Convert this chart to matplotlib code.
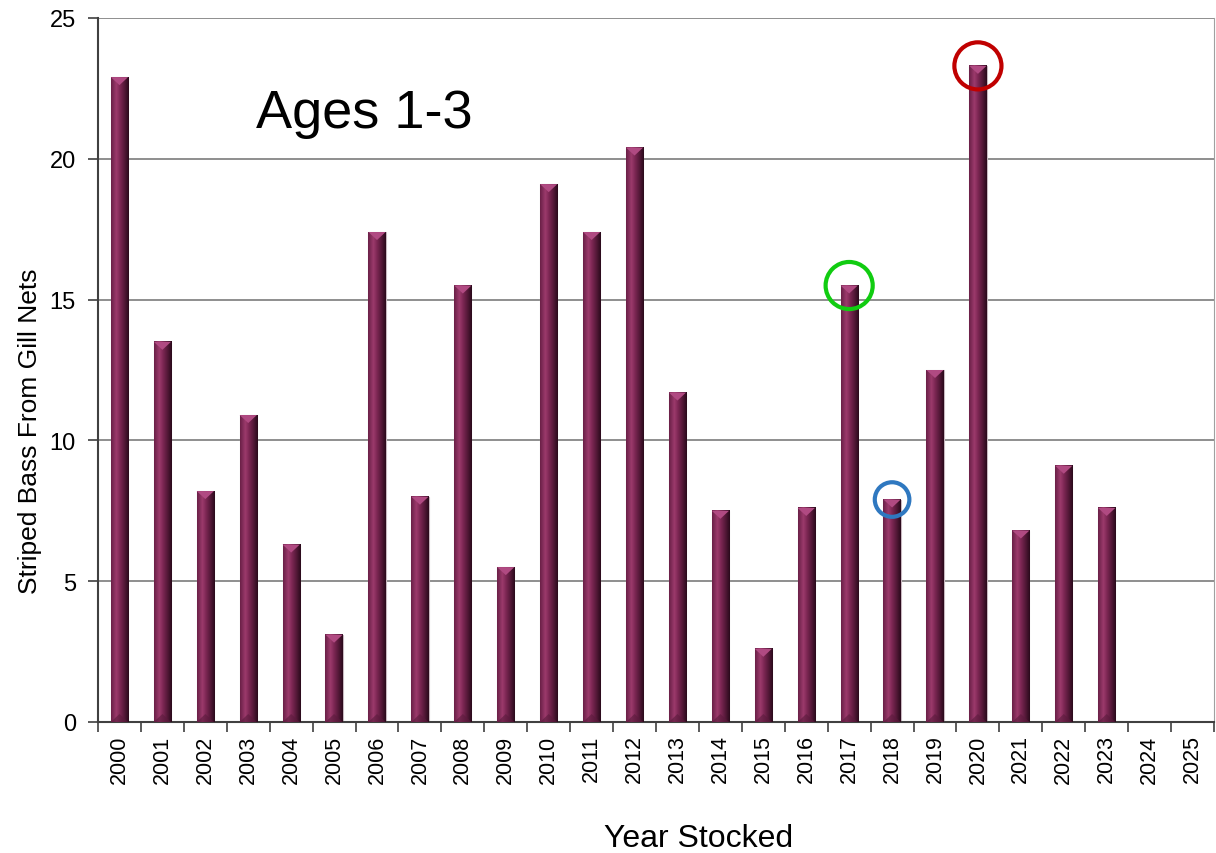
import matplotlib
matplotlib.use("Agg")
import matplotlib.pyplot as plt
import numpy as np
from matplotlib.colors import LinearSegmentedColormap
from matplotlib.patches import Polygon

plt.rcParams['font.family'] = ['Liberation Sans', 'DejaVu Sans']

years = [str(y) for y in range(2000, 2026)]
values = [22.9, 13.5, 8.2, 10.9, 6.3, 3.1, 17.4, 8.0, 15.5, 5.5, 19.1, 17.4, 20.4,
          11.7, 7.5, 2.6, 7.6, 15.5, 7.9, 12.5, 23.3, 6.8, 9.1, 7.6, 0, 0]
highlight_years = ['2017', '2018', '2020']
highlight_colors = ['#11cc11', '#2f78c0', '#c00000']
highlight_sizes = [1150, 620, 1150]

fig = plt.figure(figsize=(12.16, 8.54), dpi=100)
ax = fig.add_axes([98/1216, 131/854, 1116/1216, 704/854])

x = np.arange(len(years))
bw = 0.4
bars = ax.bar(x, values, width=bw, color='#7a2452', edgecolor='#c8b8c0', linewidth=0.8, zorder=2)

cmap = LinearSegmentedColormap.from_list('cyl', [
    (0.0, '#6a2047'), (0.3, '#9c3a6c'), (0.5, '#7d2754'),
    (0.8, '#4d1633'), (1.0, '#2a0a1b')])
grad = np.linspace(0, 1, 64).reshape(1, -1)
px_per_unit = 704 / 25.0
bev = 8 / px_per_unit
for b in bars:
    h = b.get_height()
    if h <= 0:
        continue
    x0, w = b.get_x(), b.get_width()
    ax.imshow(grad, cmap=cmap, extent=(x0, x0 + w, 0, h), aspect='auto',
              zorder=3, interpolation='bilinear')
    top = Polygon([(x0, h), (x0 + w, h), (x0 + w / 2, h - bev)], closed=True,
                  facecolor='#b04a82', edgecolor='none', zorder=4)
    ax.add_patch(top)
    bot = Polygon([(x0, 0), (x0 + w, 0), (x0 + w / 2, bev)], closed=True,
                  facecolor='#5a1a3c', edgecolor='none', zorder=4, alpha=0.6)
    ax.add_patch(bot)

ax.set_xlim(-0.5, len(years) - 0.5)
ax.set_ylim(0, 25)
ax.set_yticks([0, 5, 10, 15, 20, 25])
ax.yaxis.grid(True, color='#707070', linewidth=1.1, zorder=0)
ax.set_axisbelow(True)

ax.set_xticks(x)
ax.set_xticklabels(years, rotation=90, fontsize=15.5)
ax.set_xticks(np.arange(len(years) + 1) - 0.5, minor=True)
ax.tick_params(axis='x', which='major', length=0, pad=9)
ax.tick_params(axis='x', which='minor', length=7, width=1.2, color='#404040')
ax.tick_params(axis='y', labelsize=17, length=7, width=1.2, color='#404040', pad=9)

ax.spines['top'].set_visible(False)
ax.spines['right'].set_color('#a0a0a0')
ax.spines['left'].set_color('#404040')
ax.spines['left'].set_linewidth(1.5)
ax.spines['bottom'].set_color('#404040')
ax.spines['bottom'].set_linewidth(1.5)

ax.set_ylabel('Striped Bass From Gill Nets', fontsize=19)
ax.yaxis.set_label_coords(-0.0505, 0.415)
ax.set_xlabel('Year Stocked', fontsize=23)
ax.xaxis.set_label_coords(0.5385, -0.143)

ax.text(0.1416, 0.845, 'Ages 1-3', transform=ax.transAxes, fontsize=39,
        ha='left', va='baseline')

for yr, c, s in zip(highlight_years, highlight_colors, highlight_sizes):
    i = years.index(yr)
    ax.scatter([x[i]], [values[i]], s=s, facecolors='none', edgecolors=c,
               linewidths=3, zorder=6, clip_on=False)

fig.savefig('out.png', dpi=100)
